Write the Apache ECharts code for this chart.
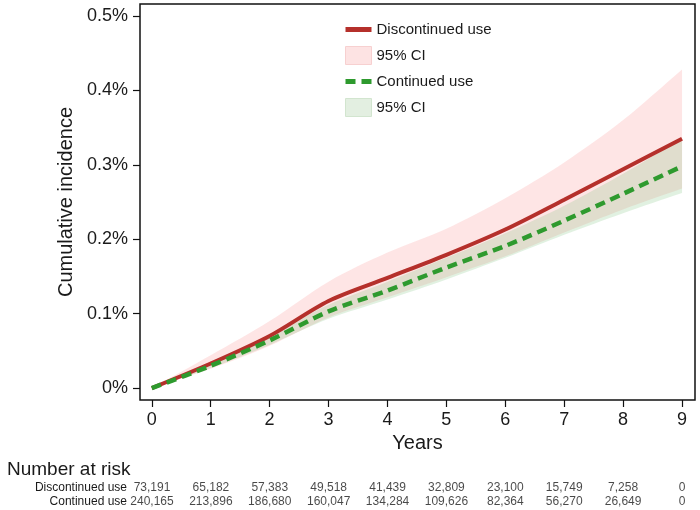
<!DOCTYPE html>
<html>
<head>
<meta charset="utf-8">
<script src="https://cdn.jsdelivr.net/npm/echarts@6/dist/echarts.min.js"></script>
<style>
  html, body { margin: 0; padding: 0; background: #fff; }
  #chart { width: 700px; height: 510px; }
</style>
</head>
<body>
<div id="chart"></div>
<script>
// values, cumulative incidence in %
const years = [0, 1, 2, 3, 4, 5, 6, 7, 8, 9];
const discLine = [0, 0.033, 0.070, 0.117, 0.148, 0.179, 0.213, 0.253, 0.294, 0.335];
const discLow  = [0, 0.026, 0.057, 0.095, 0.122, 0.149, 0.177, 0.209, 0.240, 0.268];
const discHigh = [0, 0.044, 0.090, 0.143, 0.182, 0.214, 0.255, 0.303, 0.360, 0.428];
const contLine = [0, 0.030, 0.064, 0.103, 0.131, 0.162, 0.191, 0.225, 0.261, 0.298];
const contLow  = [0, 0.027, 0.058, 0.093, 0.119, 0.146, 0.175, 0.206, 0.235, 0.262];
const contHigh = [0, 0.034, 0.071, 0.112, 0.143, 0.175, 0.208, 0.245, 0.288, 0.335];
const yTicks = [0, 0.1, 0.2, 0.3, 0.4, 0.5];
// number at risk
const riskRows = ["Continued use", "Discontinued use"];
const riskDisc = [73191, 65182, 57383, 49518, 41439, 32809, 23100, 15749, 7258, 0];
const riskCont = [240165, 213896, 186680, 160047, 134284, 109626, 82364, 56270, 26649, 0];

const RED = "#b5302b";
const GREEN = "#2e9a2e";
const PINK_FILL = "rgba(250,160,160,0.28)";
const GREEN_FILL = "rgba(120,190,120,0.22)";
const FONT = "Liberation Sans, Arial, sans-serif";
const INK = "#1a1a1a";

const pairs = (arr) => years.map((x, i) => [x, arr[i]]);

// CI band as one polygon, upper edge then lower edge back.
// corner points are doubled so the smoothing keeps the ends sharp
function band(name, lo, hi, fill) {
  return {
    name: name, type: "custom", silent: true, z: 1,
    data: years.map((x, i) => [x, lo[i], hi[i]]),
    encode: { x: 0, y: [1, 2] },
    itemStyle: { color: fill },
    renderItem: (params, api) => {
      if (params.dataIndex !== 0) return null;
      const top = years.map((x, i) => api.coord([x, hi[i]]));
      const bot = years.map((x, i) => api.coord([x, lo[i]])).reverse();
      const pts = [top[0]].concat(top, [top[top.length - 1]], [bot[0]], bot, [bot[bot.length - 1]]);
      const xs = pts.map((p) => p[0]);
      const ys = pts.map((p) => p[1]);
      const box = [[Math.min(...xs), Math.min(...ys)], [Math.max(...xs), Math.max(...ys)]];
      return {
        type: "polygon",
        shape: { points: pts, smooth: 0.3, smoothConstraint: box },
        style: { fill: fill, stroke: null }
      };
    }
  };
}

function riskSeries(row, values) {
  return {
    type: "scatter", xAxisIndex: 1, yAxisIndex: 1, silent: true,
    symbolSize: 1, itemStyle: { color: "transparent" },
    data: years.map((x, i) => [x, row, values[i]]),
    label: {
      show: true, position: "inside", fontFamily: FONT, fontSize: 12, color: INK,
      formatter: (p) => p.value[2].toLocaleString("en-US")
    }
  };
}

const hideSymbol = { color: "rgba(0,0,0,0)", opacity: 0, borderWidth: 0 };

const chart = echarts.init(document.getElementById("chart"));
const option = {
  animation: false,
  title: {
    text: "Number at risk",
    left: 2, top: 455,
    textStyle: { fontFamily: FONT, fontSize: 19, fontWeight: "normal", color: INK }
  },
  legend: {
    orient: "vertical",
    left: 343, top: 22, padding: 0,
    itemWidth: 26, itemHeight: 18, itemGap: 9,
    selectedMode: false,
    textStyle: { fontFamily: FONT, fontSize: 15, color: INK },
    formatter: (n) => (n.indexOf("ci_") === 0 ? "95% CI" : n),
    data: [
      { name: "Discontinued use", itemStyle: hideSymbol, lineStyle: { color: RED, width: 5 } },
      { name: "ci_red", icon: "rect", itemStyle: { color: "#fde3e3", borderColor: "#f7d0d0", borderWidth: 1 } },
      { name: "Continued use", itemStyle: hideSymbol, lineStyle: { color: GREEN, width: 5, type: [10, 6] } },
      { name: "ci_green", icon: "rect", itemStyle: { color: "#e3efe1", borderColor: "#d2e5cf", borderWidth: 1 } }
    ]
  },
  grid: [
    { left: 140, right: 5, top: 4, bottom: 110, show: true, borderColor: "#111", borderWidth: 1.5, backgroundColor: "transparent", z: 5 },
    { left: 152, right: 18, top: 481, bottom: 2 }
  ],
  xAxis: [
    {
      gridIndex: 0, type: "value", min: -0.2, max: 9.22,
      name: "Years", nameLocation: "middle", nameGap: 30,
      nameTextStyle: { fontFamily: FONT, fontSize: 20, color: INK },
      axisLine: { show: false, onZero: false },
      axisTick: { show: true, length: 7, customValues: years, lineStyle: { color: "#111", width: 1.2 } },
      axisLabel: { fontFamily: FONT, fontSize: 18, color: INK, margin: 11, customValues: years },
      splitLine: { show: false }
    },
    { gridIndex: 1, type: "value", min: 0, max: 9, show: false }
  ],
  yAxis: [
    {
      gridIndex: 0, type: "value", min: -0.016, max: 0.516,
      name: "Cumulative incidence", nameLocation: "middle", nameGap: 62, nameRotate: 90,
      nameTextStyle: { fontFamily: FONT, fontSize: 20, color: INK },
      axisLine: { show: false, onZero: false },
      axisTick: { show: true, length: 7, customValues: yTicks, lineStyle: { color: "#111", width: 1.2 } },
      axisLabel: {
        fontFamily: FONT, fontSize: 18, color: INK, margin: 12, customValues: yTicks,
        formatter: (v) => (Math.abs(v) < 1e-9 ? "0" : +v.toFixed(1)) + "%"
      },
      splitLine: { show: false }
    },
    {
      gridIndex: 1, type: "category", data: riskRows,
      axisLine: { show: false }, axisTick: { show: false },
      axisLabel: { fontFamily: FONT, fontSize: 12, color: INK, margin: 25, interval: 0 }
    }
  ],
  series: [
    band("ci_red", discLow, discHigh, PINK_FILL),
    band("ci_green", contLow, contHigh, GREEN_FILL),
    {
      name: "Discontinued use", type: "line", data: pairs(discLine),
      symbol: "none", smooth: 0.3, clip: false, z: 3,
      lineStyle: { color: RED, width: 4 }, itemStyle: { color: RED }
    },
    {
      name: "Continued use", type: "line", data: pairs(contLine),
      symbol: "none", smooth: 0.3, clip: false, z: 4,
      lineStyle: { color: GREEN, width: 4.5, type: [10, 6] }, itemStyle: { color: GREEN }
    },
    riskSeries(1, riskDisc),
    riskSeries(0, riskCont)
  ]
};
chart.setOption(option);
window.addEventListener("resize", chart.resize);
</script>
</body>
</html>
